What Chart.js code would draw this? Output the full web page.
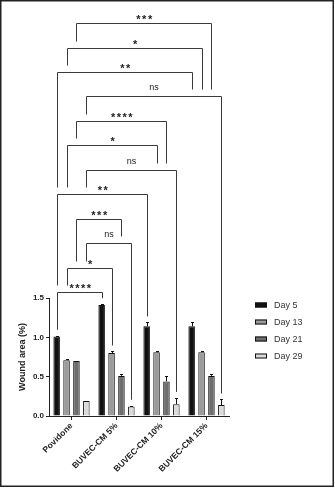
<!DOCTYPE html>
<html>
<head>
<meta charset="utf-8">
<script src="https://cdn.jsdelivr.net/npm/chart.js@4"></script>
<style>
html, body { margin: 0; padding: 0; background: #fff; }
canvas { display: block; }
</style>
</head>
<body>
<canvas id="woundChart" width="335" height="488"></canvas>
<script>
// Wound area by treatment group, four time points
const groups = ['Povidone', 'BUVEC-CM 5%', 'BUVEC-CM 10%', 'BUVEC-CM 15%'];
const days = ['Day 5', 'Day 13', 'Day 21', 'Day 29'];
const yTicks = [0, 0.5, 1.0, 1.5];

const day5 = [1.01, 1.41, 1.14, 1.14];
const day13 = [0.71, 0.80, 0.81, 0.81];
const day21 = [0.70, 0.51, 0.44, 0.51];
const day29 = [0.19, 0.12, 0.15, 0.14];

// SEM for each bar
const err5 = [0.01, 0.01, 0.05, 0.06];
const err13 = [0.01, 0.02, 0.02, 0.01];
const err21 = [0, 0.02, 0.07, 0.02];
const err29 = [0, 0.01, 0.08, 0.07];

// Comparisons vs Povidone, listed from the lowest bracket up
const sigDay = [0, 1, 3, 2, 0, 3, 1, 2, 3, 0, 1, 2];
const sigGroup = [1, 1, 1, 1, 2, 2, 2, 2, 3, 3, 3, 3];
const sigLabel = ['****', '*', 'ns', '***', '**', 'ns', '*', '****', 'ns', '**', '*', '***'];

const values = [day5, day13, day21, day29];
const errors = [err5, err13, err21, err29];
const barColors = ['#111111', '#9b9b9b', '#6e6e6e', '#dadada'];
const FONT = "'Liberation Sans', Arial, sans-serif";

const errorBars = {
    id: 'errorBars',
    afterDatasetsDraw(chart) {
        const { ctx } = chart;
        const y = chart.scales.y;
        ctx.save();
        ctx.strokeStyle = '#111';
        ctx.lineWidth = 1;
        chart.data.datasets.forEach((ds, i) => {
            chart.getDatasetMeta(i).data.forEach((bar, j) => {
                const e = errors[i][j];
                if (!e) return;
                const top = Math.round(y.getPixelForValue(ds.data[j] + e)) + 0.5;
                const x = Math.round(bar.x) + 0.5;
                ctx.beginPath();
                ctx.moveTo(x, bar.y);
                ctx.lineTo(x, top);
                ctx.moveTo(x - 1.5, top);
                ctx.lineTo(x + 1.5, top);
                ctx.stroke();
            });
        });
        ctx.restore();
    }
};

const brackets = {
    id: 'brackets',
    afterDraw(chart) {
        const { ctx, chartArea } = chart;
        const y = chart.scales.y;
        const levelY = k => Math.round(chartArea.top - 6 - k * 24.45) + 0.5;
        const barX = (d, g) => Math.round(chart.getDatasetMeta(d).data[g].x) + 0.5;
        const barTop = (d, g) => y.getPixelForValue(values[d][g] + errors[d][g]);

        // a leg stops just above the next bracket under it, or above its bar
        const legEnd = (x, k, d, g) => {
            for (let m = k - 1; m >= 0; m--) {
                const a = barX(sigDay[m], 0), b = barX(sigDay[m], sigGroup[m]);
                if (x >= a && x <= b) return levelY(m) - 7;
            }
            return barTop(d, g) - 6;
        };

        ctx.save();
        ctx.strokeStyle = '#3a3a3a';
        ctx.fillStyle = '#222';
        ctx.lineWidth = 1;
        ctx.textAlign = 'center';
        sigLabel.forEach((label, k) => {
            const d = sigDay[k], g = sigGroup[k];
            const x1 = barX(d, 0), x2 = barX(d, g);
            const yb = levelY(k);
            ctx.beginPath();
            ctx.moveTo(x1, legEnd(x1, k, d, 0));
            ctx.lineTo(x1, yb);
            ctx.lineTo(x2, yb);
            ctx.lineTo(x2, legEnd(x2, k, d, g));
            ctx.stroke();

            const cx = (x1 + x2) / 2;
            if (label === 'ns') {
                ctx.font = '9px ' + FONT;
                ctx.letterSpacing = '0px';
                ctx.fillText(label, cx, yb - 7);
            } else {
                ctx.font = 'bold 11px ' + FONT;
                ctx.letterSpacing = '1.5px';
                ctx.fillText(label, cx + 1, yb - 1);
            }
        });
        ctx.letterSpacing = '0px';

        // legend
        ctx.textAlign = 'left';
        ctx.textBaseline = 'middle';
        ctx.font = '9px ' + FONT;
        chart.data.datasets.forEach((ds, i) => {
            const ly = Math.round(chartArea.top + 7 + i * 16.9);
            const lx = Math.round(chartArea.right + 26);
            ctx.fillStyle = ds.backgroundColor;
            ctx.fillRect(lx, ly - 2.5, 12, 5);
            ctx.strokeStyle = '#111';
            ctx.strokeRect(lx + 0.5, ly - 2, 11, 4);
            ctx.fillStyle = '#333';
            ctx.fillText(ds.label, lx + 19, ly + 0.5);
        });

        // frame
        ctx.strokeStyle = '#222';
        ctx.lineWidth = 1.5;
        ctx.strokeRect(0.75, 0.75, 332.5, 485.5);
        ctx.restore();
    }
};

new Chart(document.getElementById('woundChart'), {
    type: 'bar',
    data: {
        labels: groups,
        datasets: days.map((label, i) => ({
            label: label,
            data: values[i],
            backgroundColor: barColors[i],
            borderColor: '#111',
            borderWidth: 1,
            categoryPercentage: 0.88,
            barPercentage: 0.66
        }))
    },
    options: {
        responsive: false,
        animation: false,
        events: [],
        layout: { padding: { top: 298, right: 106, left: 17, bottom: 0 } },
        plugins: {
            legend: { display: false },
            tooltip: { enabled: false }
        },
        scales: {
            x: {
                afterFit: scale => { scale.height = 72; },
                grid: { drawOnChartArea: false, offset: false, tickLength: 4, color: '#222' },
                border: { color: '#222', width: 1 },
                ticks: {
                    autoSkip: false,
                    maxRotation: 45,
                    minRotation: 45,
                    padding: 1,
                    color: '#222',
                    font: { family: FONT, size: 8.5, weight: 'bold' }
                }
            },
            y: {
                min: 0,
                max: 1.5,
                afterFit: scale => { scale.width = 32; },
                afterBuildTicks: scale => { scale.ticks = yTicks.map(v => ({ value: v })); },
                grid: { drawOnChartArea: false, tickLength: 3, color: '#222' },
                border: { color: '#222', width: 1 },
                ticks: {
                    padding: 2,
                    color: '#222',
                    font: { family: FONT, size: 8, weight: 'bold' },
                    callback: v => Number(v).toFixed(1)
                },
                title: {
                    display: true,
                    text: 'Wound area (%)',
                    color: '#222',
                    padding: { top: 0, bottom: 2 },
                    font: { family: FONT, size: 9, weight: 'bold' }
                }
            }
        }
    },
    plugins: [errorBars, brackets]
});
</script>
</body>
</html>
